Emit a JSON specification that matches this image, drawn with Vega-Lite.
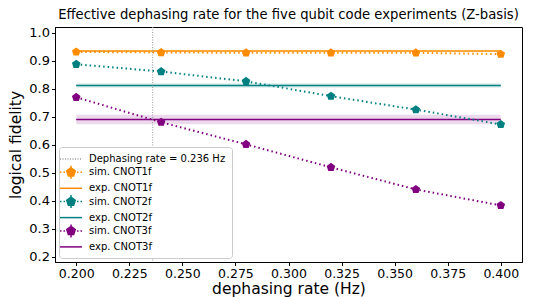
{
  "$schema": "https://vega.github.io/schema/vega-lite/v6.json",
  "width": 467,
  "height": 235,
  "autosize": {"type": "none"},
  "padding": {"left": 55, "top": 27, "right": 29, "bottom": 35},
  "config": {
    "font": "DejaVu Sans",
    "view": {"stroke": "black", "strokeWidth": 1},
    "axis": {"grid": false, "domainColor": "black", "tickColor": "black", "labelColor": "black", "titleColor": "black", "tickSize": 3.5, "labelFontSize": 12.5, "titleFontSize": 15.5, "titleFontWeight": "normal", "labelPadding": 2, "labelOverlap": false},
    "title": {"fontSize": 13.2, "fontWeight": "normal", "color": "black", "offset": 4}
  },
  "title": {"text": "Effective dephasing rate for the five qubit code experiments (Z-basis)", "anchor": "middle"},
  "data": {"values": [
    {"kind": "rule", "label": "Dephasing rate = 0.236 Hz", "x": 0.236},
    {"kind": "sim", "label": "sim. CNOT1f", "x": 0.20, "y": 0.932},
    {"kind": "sim", "label": "sim. CNOT1f", "x": 0.24, "y": 0.930},
    {"kind": "sim", "label": "sim. CNOT1f", "x": 0.28, "y": 0.929},
    {"kind": "sim", "label": "sim. CNOT1f", "x": 0.32, "y": 0.929},
    {"kind": "sim", "label": "sim. CNOT1f", "x": 0.36, "y": 0.929},
    {"kind": "sim", "label": "sim. CNOT1f", "x": 0.40, "y": 0.924},
    {"kind": "sim", "label": "sim. CNOT2f", "x": 0.20, "y": 0.888},
    {"kind": "sim", "label": "sim. CNOT2f", "x": 0.24, "y": 0.862},
    {"kind": "sim", "label": "sim. CNOT2f", "x": 0.28, "y": 0.827},
    {"kind": "sim", "label": "sim. CNOT2f", "x": 0.32, "y": 0.774},
    {"kind": "sim", "label": "sim. CNOT2f", "x": 0.36, "y": 0.726},
    {"kind": "sim", "label": "sim. CNOT2f", "x": 0.40, "y": 0.673},
    {"kind": "sim", "label": "sim. CNOT3f", "x": 0.20, "y": 0.770},
    {"kind": "sim", "label": "sim. CNOT3f", "x": 0.24, "y": 0.681},
    {"kind": "sim", "label": "sim. CNOT3f", "x": 0.28, "y": 0.602},
    {"kind": "sim", "label": "sim. CNOT3f", "x": 0.32, "y": 0.520},
    {"kind": "sim", "label": "sim. CNOT3f", "x": 0.36, "y": 0.441},
    {"kind": "sim", "label": "sim. CNOT3f", "x": 0.40, "y": 0.384},
    {"kind": "exp", "label": "exp. CNOT1f", "x": 0.20, "y": 0.935, "lo": 0.932, "hi": 0.938},
    {"kind": "exp", "label": "exp. CNOT1f", "x": 0.40, "y": 0.935, "lo": 0.932, "hi": 0.938},
    {"kind": "exp", "label": "exp. CNOT2f", "x": 0.20, "y": 0.812, "lo": 0.804, "hi": 0.820},
    {"kind": "exp", "label": "exp. CNOT2f", "x": 0.40, "y": 0.812, "lo": 0.804, "hi": 0.820},
    {"kind": "exp", "label": "exp. CNOT3f", "x": 0.20, "y": 0.691, "lo": 0.674, "hi": 0.708},
    {"kind": "exp", "label": "exp. CNOT3f", "x": 0.40, "y": 0.691, "lo": 0.674, "hi": 0.708}
  ]},
  "encoding": {
    "x": {"field": "x", "type": "quantitative", "title": "dephasing rate (Hz)",
          "scale": {"domain": [0.19, 0.41], "nice": false, "zero": false},
          "axis": {"values": [0.2, 0.225, 0.25, 0.275, 0.3, 0.325, 0.35, 0.375, 0.4], "format": ".3f", "titlePadding": 1, "labelOverlap": false}},
    "color": {
      "field": "label", "type": "nominal",
      "scale": {
        "domain": ["Dephasing rate = 0.236 Hz", "sim. CNOT1f", "exp. CNOT1f", "sim. CNOT2f", "exp. CNOT2f", "sim. CNOT3f", "exp. CNOT3f"],
        "range": ["#9a9a9a", "#ff8c00", "#ff8c00", "#008080", "#008080", "#800080", "#800080"]
      },
      "legend": {
        "title": null, "orient": "bottom-left", "offset": 4, "padding": 6,
        "strokeColor": "#cccccc", "fillColor": "white", "cornerRadius": 3,
        "labelFontSize": 10, "labelFont": "DejaVu Sans", "labelColor": "black", "labelOffset": 12, "symbolSize": 100, "rowPadding": -1.7,
        "symbolStrokeWidth": 1.5, "symbolOpacity": 1,
        "encode": {"symbols": {"update": {"stroke": {"scale": "color", "field": "value"}, "strokeWidth": {"value": 1.5}, "opacity": {"value": 1}}}}
      }
    }
  },
  "layer": [
    {
      "transform": [{"filter": "datum.kind == 'exp'"}],
      "mark": {"type": "area", "opacity": 0.15},
      "encoding": {
        "y": {"field": "lo", "type": "quantitative", "title": "logical fidelity",
              "scale": {"domain": [0.182, 1.021], "nice": false, "zero": false},
              "axis": {"values": [0.2, 0.3, 0.4, 0.5, 0.6, 0.7, 0.8, 0.9, 1.0], "tickCount": 9, "format": ".1f", "titlePadding": 5, "labelOverlap": false, "labelFontSize": 13}},
        "y2": {"field": "hi"}
      }
    },
    {
      "transform": [{"filter": "datum.kind == 'exp'"}],
      "mark": {"type": "line", "strokeWidth": 1.5},
      "encoding": {
        "y": {"field": "y", "type": "quantitative"}
      }
    },
    {
      "transform": [{"filter": "datum.kind == 'rule'"}],
      "mark": {"type": "rule", "strokeDash": [1, 1.5], "strokeWidth": 1, "color": "#9a9a9a"},
      "encoding": {
        "color": {"value": "#9a9a9a"}
      }
    },
    {
      "transform": [{"filter": "datum.kind == 'sim'"}],
      "mark": {"type": "line", "strokeWidth": 2, "strokeDash": [1.5, 3]},
      "encoding": {
        "y": {"field": "y", "type": "quantitative"}
      }
    },
    {
      "transform": [{"filter": "datum.kind == 'sim'"}],
      "mark": {"type": "point", "filled": true, "opacity": 1, "size": 100},
      "encoding": {
        "y": {"field": "y", "type": "quantitative"},
        "shape": {
          "field": "label", "type": "nominal",
          "scale": {
            "domain": ["Dephasing rate = 0.236 Hz", "sim. CNOT1f", "exp. CNOT1f", "sim. CNOT2f", "exp. CNOT2f", "sim. CNOT3f", "exp. CNOT3f"],
            "range": [
              "M-2.2,0L-2,0M-1.7,0L-1.5,0M-1.2,0L-1,0M-0.7,0L-0.5,0M-0.2,0L0,0M0.3,0L0.5,0M0.8,0L1,0M1.3,0L1.5,0M1.8,0L2,0",
              "M-2.2,0L-1.9,0M-1.5,0L-1.2,0M1.2,0L1.5,0M1.9,0L2.2,0M0,-1.3L0,1.3M0,-0.9L0.856,-0.278L0.529,0.728L-0.529,0.728L-0.856,-0.278Z",
              "M-2.2,0L2.2,0",
              "M-2.2,0L-1.9,0M-1.5,0L-1.2,0M1.2,0L1.5,0M1.9,0L2.2,0M0,-1.3L0,1.3M0,-0.9L0.856,-0.278L0.529,0.728L-0.529,0.728L-0.856,-0.278Z",
              "M-2.2,0L2.2,0",
              "M-2.2,0L-1.9,0M-1.5,0L-1.2,0M1.2,0L1.5,0M1.9,0L2.2,0M0,-1.3L0,1.3M0,-0.9L0.856,-0.278L0.529,0.728L-0.529,0.728L-0.856,-0.278Z",
              "M-2.2,0L2.2,0"
            ]
          },
          "legend": {"title": null}
        }
      }
    }
  ]
}
